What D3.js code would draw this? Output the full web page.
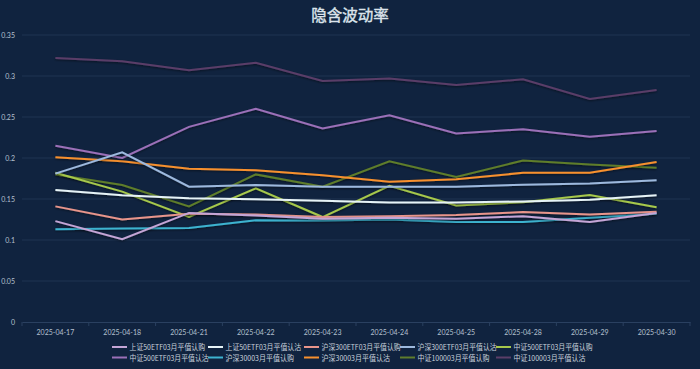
<!DOCTYPE html>
<html><head><meta charset="utf-8">
<script src="https://cdn.jsdelivr.net/npm/d3@7"></script>
<style>
html,body{margin:0;padding:0;background:#10233f;}
svg{display:block;}
</style></head>
<body><svg id="c" width="700" height="369"></svg>
<script>
const dates = ["2025-04-17","2025-04-18","2025-04-21","2025-04-22","2025-04-23","2025-04-24","2025-04-25","2025-04-28","2025-04-29","2025-04-30"];
const seriesNames = ["上证50ETF03月平值认购","上证50ETF03月平值认沽","沪深300ETF03月平值认购","沪深300ETF03月平值认沽","中证500ETF03月平值认购","中证500ETF03月平值认沽","沪深30003月平值认购","沪深30003月平值认沽","中证100003月平值认购","中证100003月平值认沽"];
const colors = ["#c4a5d6","#e6f3f7","#e8958b","#9db9de","#a6c84c","#9b70b8","#3db3d0","#f7902e","#5e7d2c","#5a3e68"];
const sz50Call  = [0.123,0.101,0.133,0.130,0.126,0.127,0.126,0.129,0.122,0.133];
const sz50Put   = [0.161,0.1545,0.151,0.1497,0.148,0.1456,0.1456,0.147,0.149,0.1545];
const hs300eCall= [0.141,0.125,0.132,0.131,0.128,0.129,0.1305,0.134,0.131,0.1346];
const hs300ePut = [0.181,0.207,0.165,0.167,0.165,0.165,0.165,0.1675,0.169,0.173];
const zz500Call = [0.182,0.159,0.128,0.163,0.128,0.166,0.142,0.146,0.155,0.140];
const zz500Put  = [0.215,0.200,0.238,0.260,0.236,0.252,0.230,0.235,0.226,0.233];
const hs300Call = [0.113,0.114,0.1147,0.124,0.1237,0.125,0.122,0.122,0.127,0.132];
const hs300Put  = [0.201,0.196,0.187,0.185,0.179,0.171,0.174,0.182,0.182,0.195];
const zz1000Call= [0.180,0.167,0.141,0.180,0.165,0.196,0.177,0.197,0.192,0.188];
const zz1000Put = [0.322,0.318,0.307,0.316,0.294,0.297,0.289,0.296,0.272,0.283];
const yTicks = [0,0.05,0.1,0.15,0.2,0.25,0.3,0.35];
const seriesValues = [sz50Call,sz50Put,hs300eCall,hs300ePut,zz500Call,zz500Put,hs300Call,hs300Put,zz1000Call,zz1000Put];

const svg = d3.select("#c");
const W=700,H=369;
svg.append("rect").attr("width",W).attr("height",H).attr("fill","#10233f");
const defs = svg.append("defs");
const f = defs.append("filter").attr("id","sh").attr("x","-5%").attr("y","-20%").attr("width","110%").attr("height","140%");
f.append("feDropShadow").attr("dx",0).attr("dy",1).attr("stdDeviation",1).attr("flood-color","#000").attr("flood-opacity",0.5);

const pL=22,pR=690,pT=35,pB=322;
const x = d3.scaleBand().domain(dates).range([pL,pR]);
const y = d3.scaleLinear().domain([0,0.35]).range([pB,pT]);

svg.append("text").attr("x",350).attr("y",20.5).attr("text-anchor","middle")
  .attr("font-family","Noto Sans CJK SC").attr("font-size",15.5)
  .attr("fill","#dbe3eb").attr("stroke","#dbe3eb").attr("stroke-width",0.4).text("隐含波动率");

// grid
svg.append("g").selectAll("line").data(yTicks.filter(d=>d>0)).join("line")
  .attr("x1",pL).attr("x2",pR).attr("y1",d=>y(d)).attr("y2",d=>y(d))
  .attr("stroke","#1e3452").attr("stroke-width",1);

// y axis labels
const ya = svg.append("g").attr("transform",`translate(${pL-4},0)`)
  .call(d3.axisLeft(y).tickValues(yTicks).tickSize(0).tickFormat(d=>String(+d.toFixed(2))));
ya.select(".domain").remove();
ya.selectAll("text").attr("fill","#b4c0cf").attr("font-family","Lato, sans-serif").attr("font-size",7);

// x axis
const xa = svg.append("g").attr("transform",`translate(0,${pB})`)
  .call(d3.axisBottom(x).tickSize(0).tickPadding(8));
xa.select(".domain").attr("stroke","#2a4060");
xa.selectAll("text").attr("fill","#b4c0cf").attr("font-family","Lato, sans-serif").attr("font-size",7);
xa.append("g").selectAll("line").data(d3.range(dates.length+1)).join("line")
  .attr("x1",i=>pL+i*x.step()).attr("x2",i=>pL+i*x.step()).attr("y1",0).attr("y2",4)
  .attr("stroke","#2a4060");

const line = d3.line().x((d,i)=>x(dates[i])+x.bandwidth()/2).y(d=>y(d));
svg.append("g").selectAll("path").data(seriesValues.map((v,i)=>({v,i})).reverse()).join("path")
  .attr("d",d=>line(d.v)).attr("fill","none").attr("stroke",d=>colors[d.i])
  .attr("stroke-width",2).attr("filter","url(#sh)");

// legend
const legX=[112,208,304,400,496], legY=[347,357.5];
const lg = svg.append("g");
seriesNames.forEach((n,i)=>{
  const col=i%5,row=Math.floor(i/5);
  const g=lg.append("g").attr("transform",`translate(${legX[col]},${legY[row]})`);
  g.append("line").attr("x1",0).attr("x2",15).attr("y1",0).attr("y2",0).attr("stroke",colors[i]).attr("stroke-width",2);
  const cjk = (n.match(/[\u4e00-\u9fff]/g)||[]).length, lat = n.length-cjk;
  g.append("text").attr("x",17.5).attr("y",3).attr("fill","#c9d2dc")
    .attr("font-family","Noto Sans CJK SC").attr("font-size",7.5)
    .attr("textLength",cjk*7.2+lat*3.6).attr("lengthAdjust","spacingAndGlyphs").text(n);
});
</script></body></html>
